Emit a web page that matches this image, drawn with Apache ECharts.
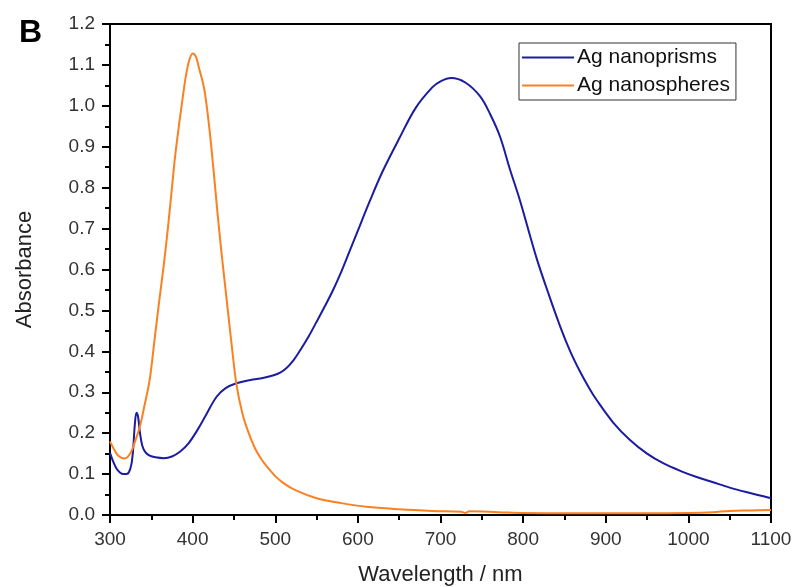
<!DOCTYPE html>
<html>
<head>
    <meta charset="utf-8"/>
    <title>UV-Vis spectra</title>
    <script src="https://cdn.jsdelivr.net/npm/echarts@6/dist/echarts.min.js"></script>
</head>
<body style="margin:0">
<div id="main" style="width:792px;height:587px;"></div>
<script>
    // Ag nanoprisms (blue)
    var prismWl = [300, 304, 308, 312, 316, 320, 323, 326, 328, 330, 332, 334, 336, 339, 343, 348, 355, 365, 375, 385,
        395, 405, 415, 429, 440, 453, 470, 485, 497, 506, 514, 522, 530, 540, 550, 560, 570, 580, 590, 600,
        615, 630, 650, 670, 690, 700, 713, 730, 748, 760, 772, 784, 796, 808, 817, 830, 845, 857, 869, 880,
        889, 909, 929, 950, 970, 990, 1010, 1030, 1050, 1070, 1100];
    var prismAbs = [0.152, 0.13, 0.113, 0.104, 0.10, 0.10, 0.105, 0.125, 0.16, 0.22, 0.25, 0.24, 0.205, 0.17, 0.153, 0.145, 0.141, 0.139, 0.143, 0.155,
        0.175, 0.205, 0.24, 0.289, 0.31, 0.322, 0.33, 0.335, 0.341, 0.348, 0.36, 0.378, 0.402, 0.435, 0.472, 0.51, 0.55, 0.595, 0.645, 0.695,
        0.77, 0.84, 0.92, 0.995, 1.045, 1.06, 1.068, 1.057, 1.023, 0.98, 0.925, 0.845, 0.77, 0.685, 0.623, 0.545, 0.46, 0.40, 0.35, 0.31,
        0.281, 0.226, 0.184, 0.150, 0.126, 0.108, 0.093, 0.080, 0.067, 0.056, 0.041];

    // Ag nanospheres (orange)
    var sphereWl = [300, 305, 310, 318, 325, 330, 336, 342, 348, 354, 360, 365, 370, 375, 379, 384, 388, 392, 396, 400,
        404, 408, 412, 415, 420, 425, 430, 435, 441, 447, 453, 460, 467, 475, 482, 490, 500, 510, 525, 550, 580,
        610, 650, 690, 725, 730, 735, 770, 800, 850, 900, 950, 1000, 1030, 1050, 1075, 1100];
    var sphereAbs = [0.18, 0.16, 0.145, 0.138, 0.152, 0.178, 0.215, 0.27, 0.33, 0.43, 0.53, 0.61, 0.70, 0.80, 0.88, 0.96, 1.02, 1.075, 1.112, 1.128,
        1.12, 1.09, 1.06, 1.03, 0.95, 0.85, 0.74, 0.64, 0.53, 0.42, 0.32, 0.25, 0.205, 0.165, 0.14, 0.118, 0.095, 0.078, 0.06, 0.041, 0.029,
        0.02, 0.014, 0.01, 0.008, 0.005, 0.009, 0.007, 0.005, 0.004, 0.004, 0.004, 0.005, 0.007, 0.01, 0.011, 0.012];

    function pairs(xs, ys) {
        var res = [];
        for (var i = 0; i < xs.length; i++) {
            res.push([xs[i], ys[i]]);
        }
        return res;
    }

    var myChart = echarts.init(document.getElementById('main'));
    var fontName = 'Liberation Sans, Arial, sans-serif';

    var option = {
        animation: false,
        backgroundColor: '#fff',
        title: {
            text: 'B',
            left: 14,
            top: 12,
            textStyle: {fontSize: 32, fontWeight: 'bold', color: '#000', fontFamily: fontName}
        },
        grid: {
            left: 110, right: 21, top: 24, bottom: 72,
            outerBoundsMode: 'none',
            show: true, borderColor: '#000', borderWidth: 2
        },
        legend: {
            orient: 'vertical',
            left: 519, top: 43,
            padding: [4, 6, 4, 3],
            itemGap: 7,
            itemWidth: 52, itemHeight: 2,
            borderColor: '#333', borderWidth: 1,
            textStyle: {fontSize: 21, color: '#111', fontFamily: fontName, padding: [0, 0, 0, -2]},
            data: [{name: 'Ag nanoprisms', icon: 'rect'}, {name: 'Ag nanospheres', icon: 'rect'}]
        },
        xAxis: {
            type: 'value',
            min: 300, max: 1100, interval: 100,
            name: 'Wavelength / nm',
            nameLocation: 'middle',
            nameGap: 49,
            nameTextStyle: {fontSize: 22, color: '#222', fontFamily: fontName},
            axisLine: {lineStyle: {color: '#000', width: 2}},
            axisTick: {inside: false, length: 8, lineStyle: {color: '#000', width: 2}},
            minorTick: {show: true, splitNumber: 2, length: 5, lineStyle: {color: '#000', width: 2}},
            axisLabel: {
                fontSize: 19, color: '#333', margin: 15, fontFamily: fontName,
                formatter: function (v) { return String(v); }
            },
            splitLine: {show: false}
        },
        yAxis: {
            type: 'value',
            min: 0, max: 1.2, interval: 0.1,
            name: 'Absorbance',
            nameLocation: 'middle',
            nameGap: 74,
            nameTextStyle: {fontSize: 22, color: '#222', fontFamily: fontName},
            axisLine: {show: true, lineStyle: {color: '#000', width: 2}},
            axisTick: {show: true, inside: false, length: 8, lineStyle: {color: '#000', width: 2}},
            minorTick: {show: true, splitNumber: 2, length: 5, lineStyle: {color: '#000', width: 2}},
            axisLabel: {
                fontSize: 19, color: '#333', margin: 15, fontFamily: fontName,
                formatter: function (v) { return v.toFixed(1); }
            },
            splitLine: {show: false}
        },
        series: [
            {
                name: 'Ag nanoprisms',
                type: 'line',
                data: pairs(prismWl, prismAbs),
                showSymbol: false,
                smooth: 0.35,
                color: '#1c1ca0',
                lineStyle: {width: 2, color: '#1c1ca0'}
            },
            {
                name: 'Ag nanospheres',
                type: 'line',
                data: pairs(sphereWl, sphereAbs),
                showSymbol: false,
                smooth: 0.35,
                color: '#fb8022',
                lineStyle: {width: 2, color: '#fb8022'}
            }
        ]
    };
    myChart.setOption(option);
</script>
</body>
</html>
